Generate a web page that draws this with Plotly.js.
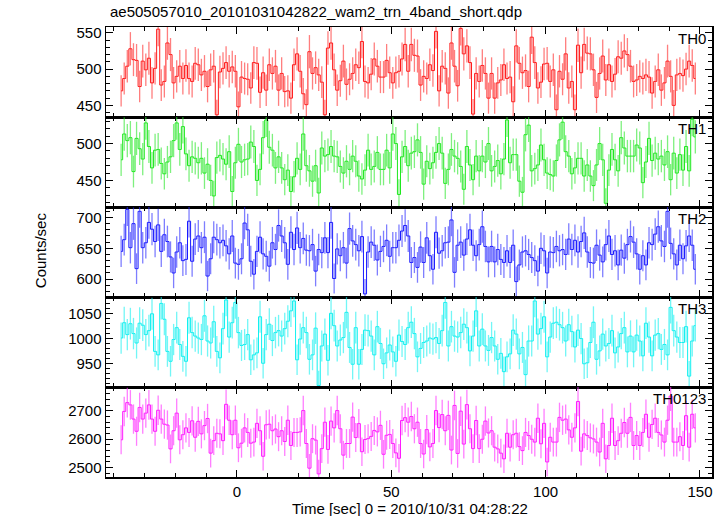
<!DOCTYPE html>
<html>
<head>
<meta charset="utf-8">
<script src="https://cdn.plot.ly/plotly-3.0.1.min.js"></script>
<style>html,body{margin:0;padding:0;background:#fff;}#chart{width:727px;height:516px;}</style>
</head>
<body>
<div id="chart"></div>
<script>
// ---- data (count rate per 1-s bin) ----
const timeStart = -37.5;   // centre of first bin [sec]
const binSec = 1.0;        // bin width [sec]
const panelNames = ["TH0", "TH1", "TH2", "TH3", "TH0123"];

const th0 = [
470,487,504,528,513,512,476,511,499,515,481,501,555,478,483,536,520,481,490,504,
487,505,487,483,508,506,492,497,476,499,504,437,496,501,509,497,503,497,448,489,
487,486,474,509,508,468,495,471,506,494,504,471,494,469,470,460,506,521,
497,466,451,524,494,502,492,482,437,529,536,499,471,484,511,479,486,494,506,502,
538,483,481,493,514,504,489,489,512,495,481,495,497,514,534,497,534,519,518,478,
490,487,506,498,552,470,504,501,467,536,504,477,556,521,532,509,438,494,483,505,
494,460,494,460,481,
485,506,487,489,455,532,508,495,498,476,544,509,474,482,507,508,483,499,444,497,
486,521,474,483,444,533,495,534,522,521,499,461,494,518,485,506,483,493,517,515,
525,520,504,483,485,490,487,492,489,467,483,499,471,481,511,490,450,492,494,491,
500,511,505,487
];

const th1 = [
478,513,504,508,462,507,493,479,528,496,467,491,492,473,459,475,482,504,528,492,
523,486,470,482,480,474,480,460,472,450,429,481,484,479,472,489,435,474,499,475,
478,479,502,496,450,465,508,532,495,491,467,482,467,451,464,435,455,480,
465,513,470,463,449,470,433,494,483,485,496,483,482,469,460,476,465,483,476,456,
452,464,491,465,469,488,465,465,491,467,513,500,431,482,496,470,487,489,505,488,
445,476,466,474,488,500,487,446,465,492,483,480,469,438,496,471,451,483,463,483,
475,500,463,469,477,459,479,532,474,485,485,449,434,512,525,463,466,471,498,478,
460,458,456,477,505,529,489,483,459,467,480,480,456,471,456,443,471,500,478,419,
464,492,478,463,508,494,483,483,483,498,494,447,475,507,477,487,479,483,471,489,
451,487,460,485,464,496,463,533,509
];

const th2 = [
645,664,713,651,690,617,710,651,659,692,681,661,688,645,672,661,636,610,644,659,
630,632,694,629,665,670,651,668,605,633,668,664,659,663,654,641,670,626,624,633,
691,680,629,608,645,668,641,637,621,659,648,687,670,659,624,676,648,683,
651,666,647,646,656,613,648,643,667,643,692,601,649,638,
651,626,682,662,656,646,669,576,644,660,655,631,645,
653,663,637,651,651,663,678,687,670,627,635,619,652,
627,667,638,616,676,642,646,659,660,696,611,655,660,
639,665,680,655,638,656,685,653,628,653,628,648,632,
627,646,627,655,596,623,644,646,640,635,630,613,650,
646,610,644,643,653,646,648,640,665,648,663,644,661,
675,644,627,626,655,639,628,656,670,640,646,623,647,
634,656,669,660,641,616,638,623,659,656,673,685,662,
653,710,658,641,623,655,633,654,670,655,616
];

const th3 = [
1001,1032,1008,1030,1010,991,1031,1027,1008,1016,1050,974,967,1071,1039,974,954,998,1022,988,
964,954,1042,1012,1005,1001,998,1046,995,991,1034,974,961,1020,1078,1003,1032,1073,1012,986,
988,1008,957,967,971,1044,950,1008,1029,996,1012,1016,1005,1020,1035,1056,1076,957,
999,1022,1012,958,967,1021,905,985,1009,956,1051,1026,985,997,
1002,1053,982,948,1022,948,978,1017,1016,1005,967,1024,990,
949,971,987,973,954,1007,994,988,1022,1033,1010,963,980,
992,995,1001,999,1002,990,1016,1073,985,1024,1005,1003,1012,
1029,1022,975,1005,1056,985,1019,985,976,1002,985,958,970,
933,963,969,1017,1009,969,982,927,995,995,1076,1009,1020,
1044,963,1003,1031,1033,1028,1022,995,1028,1014,983,1017,1000,
949,951,992,1033,958,975,1009,985,990,1016,971,983,1010,
1022,973,1005,973,1007,995,965,1031,1003,965,1007,1010,978,
988,967,1063,1016,1003,992,992,1024,924,995,1026
];

const th0123 = [
2598,2698,2729,2721,2671,2628,2712,2671,2692,2721,2671,2628,2702,2671,2653,2650,2566,2630,2692,2598,
2616,2640,2624,2665,2607,2663,2619,2648,2673,2551,2595,2621,2619,2595,2723,2667,2616,2667,2570,2586,
2640,2624,2586,2590,2656,2630,2540,2651,2653,2630,2636,2609,2630,2592,2667,2578,2624,2624,
2626,2701,2585,2498,2602,2597,2478,2567,2660,2564,2664,2640,
2701,2637,2544,2585,2585,2678,2606,2655,2556,2599,2602,2610,
2631,2626,2649,2547,2614,2617,2585,2552,2533,2666,2676,2660,
2680,2637,2660,2585,2548,2634,2573,2585,2701,2641,2687,2630,
2684,2562,2719,2550,2699,2583,2722,2637,2567,2666,2567,2600,
2664,2622,
2630,2572,2566,2551,2531,2621,2572,2616,2621,2574,2560,2624,2613,2600,
2590,2674,2584,2656,2520,2607,2590,2590,2677,2667,2671,2633,2607,2640,
2733,2558,2619,2613,2605,2601,2590,2555,2656,2531,2578,2674,2578,2595,
2621,2659,2621,2677,2578,2613,2578,2624,2688,2607,2652,2674,2624,2615,
2590,2667,2752,2590,2590,2609,2578,2683,2572,2688,2640
];

const series = [th0, th1, th2, th3, th0123];

// ---- styling / layout (kept apart from data) ----
const lineColors = ["#ff1a1a", "#1ee81e", "#1a1aff", "#11f0f0", "#ff1aff"];
const errColors  = ["rgba(255,40,40,0.6)", "rgba(40,230,40,0.6)", "rgba(40,40,255,0.6)", "rgba(20,240,240,0.6)", "rgba(255,40,255,0.6)"];
const yRanges = [[434, 558], [414, 536], [571, 717], [902, 1084], [2467, 2784]];
const yDticks = [50, 50, 50, 50, 100];
const yMinor  = [10, 10, 10, 10, 20];
const xRange = [-42.4, 153.9];
const font = {family: "Liberation Sans, Arial, Helvetica, sans-serif", size: 15, color: "#000"};

const traces = series.map((vals, k) => {
  const xs = vals.map((_, i) => timeStart + i * binSec);
  const sfx = k === 0 ? "" : String(k + 1);
  return {
    type: "scatter", mode: "lines", x: xs, y: vals,
    line: {shape: "hvh", color: lineColors[k], width: 1},
    error_y: {type: "sqrt", visible: true, color: errColors[k], thickness: 1.3, width: 0},
    xaxis: "x" + sfx, yaxis: "y" + sfx, hoverinfo: "skip", showlegend: false
  };
});

const layout = {
  width: 727, height: 516,
  margin: {l: 106, r: 15, t: 27, b: 39},
  paper_bgcolor: "#fff", plot_bgcolor: "#fff",
  font: font, showlegend: false,
  title: {text: "ae505057010_20101031042822_wam2_trn_4band_short.qdp",
          x: 110 / 727, xanchor: "left", y: 1 - 12 / 516, yanchor: "middle",
          font: {family: font.family, size: 15, color: "#000"}},
  annotations: []
};

series.forEach((_, k) => {
  const sfx = k === 0 ? "" : String(k + 1);
  layout["xaxis" + sfx] = {
    domain: [0, 1], anchor: "y" + sfx, range: xRange,
    tick0: 0, dtick: 50, ticks: "inside", ticklen: 7, tickwidth: 1, tickcolor: "#000",
    minor: {dtick: 10, ticks: "inside", ticklen: 4, tickwidth: 1, tickcolor: "#000"},
    showline: true, linewidth: 1.5, linecolor: "#000", mirror: "ticks",
    showgrid: false, zeroline: false,
    showticklabels: k === series.length - 1, tickfont: font,
    matches: k === 0 ? undefined : "x"
  };
  layout["yaxis" + sfx] = {
    domain: [1 - (k + 1) / 5, 1 - k / 5], anchor: "x" + sfx, range: yRanges[k],
    tick0: 0, dtick: yDticks[k], ticks: "inside", ticklen: 7, tickwidth: 1, tickcolor: "#000",
    minor: {dtick: yMinor[k], ticks: "inside", ticklen: 4, tickwidth: 1, tickcolor: "#000"},
    showline: true, linewidth: 1.5, linecolor: "#000", mirror: "ticks",
    showgrid: false, zeroline: false, tickfont: font
  };
  layout.annotations.push({
    text: panelNames[k], showarrow: false,
    xref: "paper", x: 0.993, xanchor: "right",
    yref: "y" + sfx + " domain", y: 0.99, yanchor: "top",
    font: {family: font.family, size: 15, color: "#000"}
  });
});

layout.annotations.push({
  text: "Time [sec] 0 = 2010/10/31 04:28:22", showarrow: false,
  xref: "paper", x: 0.502, xanchor: "center",
  yref: "paper", y: -0.069, yanchor: "middle", font: font
});
layout.annotations.push({
  text: "Counts/sec", showarrow: false, textangle: -90,
  xref: "paper", x: -0.109, xanchor: "center",
  yref: "paper", y: 0.504, yanchor: "middle", font: font
});

Plotly.newPlot("chart", traces, layout, {displayModeBar: false, staticPlot: true});
</script>
</body>
</html>
